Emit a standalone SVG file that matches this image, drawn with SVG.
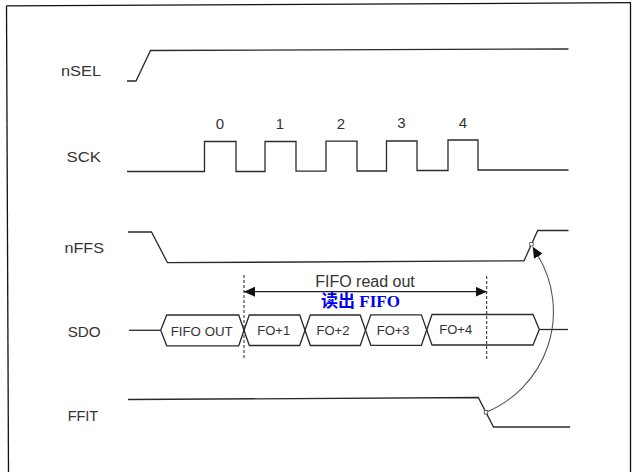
<svg xmlns="http://www.w3.org/2000/svg" width="632" height="472" viewBox="0 0 632 472">
<style>
.bg{fill:#ffffff}
.frame{fill:none;stroke:#111;stroke-width:1.3}
.wave{fill:none;stroke:#2a2a2a;stroke-width:1.3;stroke-linejoin:miter}
.lbl{font-family:"Liberation Sans",Arial,sans-serif;font-size:15px;fill:#333}
.num{font-family:"Liberation Sans",Arial,sans-serif;font-size:15px;fill:#333;text-anchor:middle}
.dat{font-family:"Liberation Sans",Arial,sans-serif;font-size:13px;fill:#333}
.dash{fill:none;stroke:#222;stroke-width:1;stroke-dasharray:3,2}
.arr{fill:none;stroke:#222;stroke-width:1.2}
.curve{fill:none;stroke:#555;stroke-width:1.1}
.mk{fill:#fff;stroke:#444;stroke-width:0.8}
.cn{font-family:"Liberation Serif","Noto Sans CJK SC",serif;font-size:17px;font-weight:bold;fill:#0000ee;text-anchor:middle}
</style>
<defs>
<marker id="tipEnd" viewBox="0 0 11 10" refX="11" refY="5" markerWidth="11" markerHeight="10" markerUnits="userSpaceOnUse" orient="auto-start-reverse">
<path d="M0,0 L11,5 L0,10 z" fill="#111"/>
</marker>
<marker id="tipBase" viewBox="0 0 11 10" refX="0" refY="5" markerWidth="11" markerHeight="10" markerUnits="userSpaceOnUse" orient="auto">
<path d="M0,0 L11,5 L0,10 z" fill="#111"/>
</marker>
</defs>
<rect class="bg" x="0" y="0" width="632" height="472"/>
<g id="frame">
<path class="frame" d="M6.5,5.8 L631,2.7"/>
<path class="frame" d="M6.5,5.8 L8.5,472"/>
<path class="frame" d="M630.5,2.7 L630.5,472"/>
</g>
<g id="nSEL">
<text class="lbl" x="61" y="76" textLength="40" lengthAdjust="spacingAndGlyphs">nSEL</text>
<path class="wave" d="M127,81 H136 L150.5,50.5 L568.5,49"/>
</g>
<g id="SCK">
<text class="lbl" x="66.5" y="162" textLength="34.5" lengthAdjust="spacingAndGlyphs">SCK</text>
<path class="wave" d="M127,171.5 H204.5 V141.5 H236 V171.5 H265 V141.5 H296 V171.2 H326 V141.2 H357 V171 H386.5 V141 H417 V170.5 H448 V140 H478 V170 H568.5"/>
<text class="num" x="220" y="128.5">0</text>
<text class="num" x="280" y="128.5">1</text>
<text class="num" x="341" y="128.5">2</text>
<text class="num" x="401.5" y="128.3">3</text>
<text class="num" x="463" y="128">4</text>
</g>
<g id="nFFS">
<text class="lbl" x="64.5" y="253" textLength="39.5" lengthAdjust="spacingAndGlyphs">nFFS</text>
<path class="wave" d="M128,232 H151.5 L167.5,262.7 L524,260.8 L537.7,230.5 H568.5"/>
</g>
<g id="SDO">
<text class="lbl" x="67.7" y="336.7" textLength="33" lengthAdjust="spacingAndGlyphs">SDO</text>
<path class="wave" d="M129,330.3 H160.7"/>
<path class="wave" d="M160.7,330.3 L166.7,315 H238.7 L249.3,345.5 H299.7 L310.3,315 H360.2 L370.8,345.3 H421.4 L432,314.5 H533 L539.3,329.5"/>
<path class="wave" d="M160.7,330.3 L166.7,345.8 H238.7 L249.3,315 H299.7 L310.3,345.5 H360.2 L370.8,314.8 H421.4 L432,345 H533 L539.3,329.5"/>
<path class="wave" d="M539.3,329.5 H568"/>
<text class="dat" x="170.7" y="335.5" textLength="62" lengthAdjust="spacingAndGlyphs">FIFO OUT</text>
<text class="dat" x="257.3" y="335">FO+1</text>
<text class="dat" x="316.5" y="335">FO+2</text>
<text class="dat" x="376.7" y="334.5">FO+3</text>
<text class="dat" x="439.3" y="334">FO+4</text>
</g>
<g id="FFIT">
<text class="lbl" x="67.7" y="421" textLength="30.5" lengthAdjust="spacingAndGlyphs">FFIT</text>
<path class="wave" d="M128,399.5 L478.3,397.5 L493.5,427 H570"/>
</g>
<g id="readout-label">
<text class="lbl" x="365" y="286.5" text-anchor="middle" style="font-size:16px">FIFO read out</text>
<text class="cn" x="360.5" y="306.5">读出 FIFO</text>
</g>
<g id="connectors">
<path class="dash" d="M244,275 V360"/>
<path class="dash" d="M486.7,276 V360"/>
<path class="arr" d="M244,291.7 H486.7" marker-start="url(#tipEnd)" marker-end="url(#tipEnd)"/>
<path class="curve" d="M486,412.3 A108.8,108.8 0 0 0 538.3,256.3" marker-end="url(#tipBase)"/>
<rect class="mk" x="484.3" y="410.6" width="3.4" height="3.4"/>
<rect class="mk" x="529.8" y="242.6" width="3.4" height="3.4"/>
</g>
</svg>
